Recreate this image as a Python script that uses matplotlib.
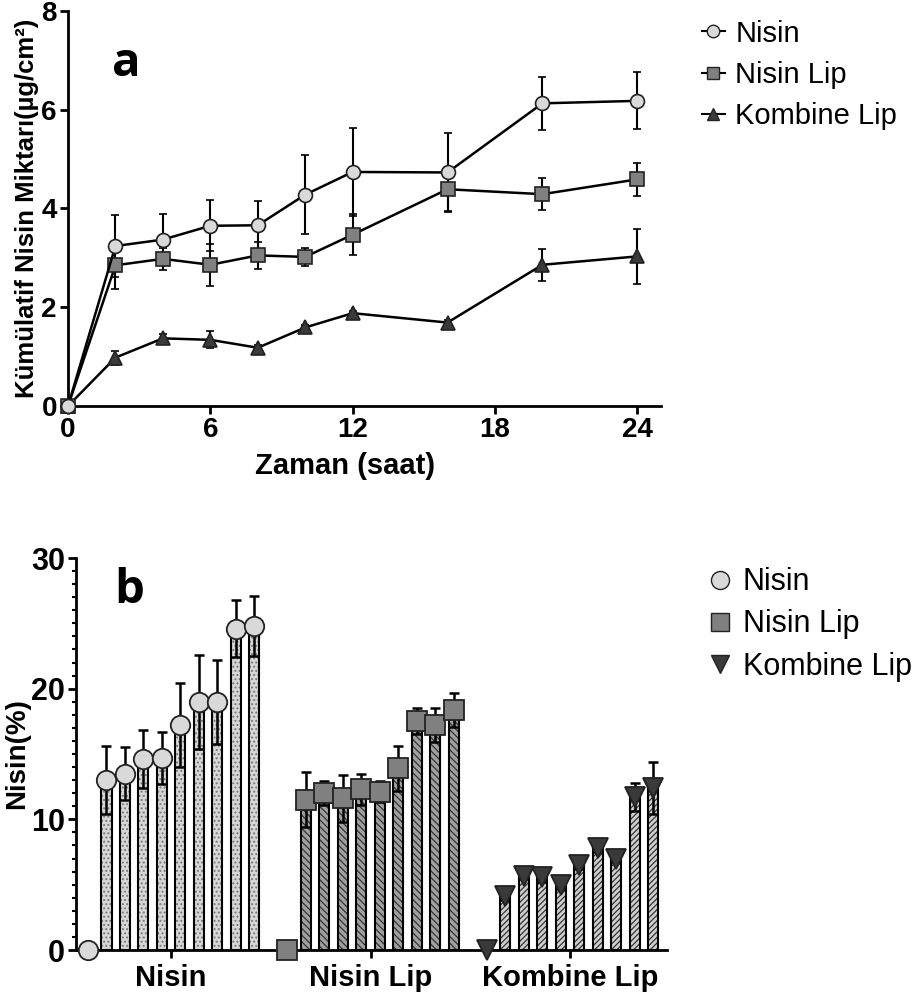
import numpy as np
import matplotlib
matplotlib.use("Agg")
import matplotlib.pyplot as plt
from matplotlib.lines import Line2D

# font used for the whole figure (Arial look-alike)
plt.rcParams['font.family'] = ['Liberation Sans', 'DejaVu Sans']
plt.rcParams['hatch.linewidth'] = 0.9

# ---- data: panel a (cumulative nisin, ug/cm2) ----
time_h = [0, 2, 4, 6, 8, 10, 12, 16, 20, 24]
nisin = [0, 3.24, 3.37, 3.65, 3.66, 4.28, 4.74, 4.73, 6.13, 6.18]
nisin_err = [0, 0.63, 0.52, 0.52, 0.50, 0.80, 0.90, 0.80, 0.54, 0.58]
nisin_lip = [0, 2.85, 2.98, 2.86, 3.05, 3.02, 3.47, 4.39, 4.29, 4.59]
nisin_lip_err = [0, 0.48, 0.22, 0.42, 0.27, 0.18, 0.42, 0.45, 0.32, 0.33]
kombine = [0, 0.98, 1.37, 1.34, 1.18, 1.59, 1.88, 1.69, 2.86, 3.03]
kombine_err = [0, 0.14, 0.08, 0.17, 0.05, 0.05, 0.05, 0.05, 0.32, 0.56]

# ---- data: panel b (nisin %) ----
groups = ['Nisin', 'Nisin Lip', 'Kombine Lip']
pct_nisin = [0, 13.0, 13.5, 14.6, 14.7, 17.2, 19.0, 19.0, 24.6, 24.8]
pct_nisin_err = [0, 2.6, 2.0, 2.2, 2.0, 3.2, 3.6, 3.2, 2.2, 2.3]
pct_lip = [0, 11.5, 12.0, 11.6, 12.3, 12.1, 13.9, 17.5, 17.2, 18.4]
pct_lip_err = [0, 2.1, 0.9, 1.8, 1.2, 0.8, 1.7, 1.0, 1.3, 1.3]
pct_komb = [0, 4.1, 5.7, 5.6, 5.0, 6.5, 7.8, 7.0, 11.7, 12.4]
pct_komb_err = [0, 0.3, 0.3, 0.4, 0.3, 0.3, 0.3, 0.3, 1.1, 2.0]

fig = plt.figure(figsize=(9.22, 9.99), dpi=100)

# ================= panel a =================
ax1 = fig.add_axes([68/922, 1 - 406/999, (661-68)/922, (406-11)/999])

series_a = [
    (kombine, kombine_err, '^', '#3a3a3a', 'Kombine Lip'),
    (nisin_lip, nisin_lip_err, 's', '#808080', 'Nisin Lip'),
    (nisin, nisin_err, 'o', '#d9d9d9', 'Nisin'),
]
for vals, err, mk, col, lab in series_a:
    ax1.errorbar(time_h, vals, yerr=err, color='black', lw=1.8, capsize=3,
                 capthick=1.5, elinewidth=1.5, marker=mk, ms=10,
                 mfc=col, mec='#222222', mew=1.2, clip_on=False, zorder=3)

ax1.set_xlim(0, 25)
ax1.set_ylim(0, 8)
ax1.set_xticks([0, 6, 12, 18, 24])
ax1.set_yticks([0, 2, 4, 6, 8])
for s in ['top', 'right']:
    ax1.spines[s].set_visible(False)
for s in ['left', 'bottom']:
    ax1.spines[s].set_linewidth(2)
ax1.tick_params(width=2, length=6, labelsize=20, pad=2)
for t in ax1.get_xticklabels() + ax1.get_yticklabels():
    t.set_fontweight('bold')
ax1.set_xlabel('Zaman (saat)', fontsize=21, fontweight='bold', va='center')
ax1.xaxis.set_label_coords(0.467, -0.152)
ax1.set_ylabel('Kümülatif Nisin Miktarı(µg/cm²)', fontsize=18.5,
               fontweight='bold', va='center')
ax1.yaxis.set_label_coords(-0.069, 0.5)
ax1.text(0.075, 0.835, 'a', transform=ax1.transAxes, fontsize=34,
         fontweight='bold', family='Open Sans')

handles_a = [Line2D([], [], color='black', lw=1.5, marker=m, ms=9, mfc=c,
                    mec='#222222') for _, _, m, c, _ in series_a[::-1]]
labels_a = [s[4] for s in series_a[::-1]]
fig.legend(handles_a, labels_a, loc='upper left',
           bbox_to_anchor=(690/922, 1 - 8/999), frameon=False, fontsize=21,
           handlelength=0.8, handletextpad=0.35, labelspacing=0.45,
           borderaxespad=0)

# ================= panel b =================
ax2 = fig.add_axes([76/922, 1 - 950/999, (667-76)/922, (950-558)/999])

gap = 10.8
series_b = [
    (pct_nisin, pct_nisin_err, 'o', '#d9d9d9', '#d6d6d6', '....', '#777777', 'Nisin'),
    (pct_lip, pct_lip_err, 's', '#808080', '#a0a0a0', '\\\\\\\\\\', '#333333', 'Nisin Lip'),
    (pct_komb, pct_komb_err, 'v', '#3a3a3a', '#cfcfcf', '//////', '#333333', 'Kombine Lip'),
]
offsets = np.arange(10) - 4.5
for g, (vals, err, mk, mcol, bcol, hatch, hcol, lab) in enumerate(series_b):
    x = g * gap + offsets
    # hatched fill, then black outline on top
    ax2.bar(x[1:], vals[1:], width=0.55, color=bcol, hatch=hatch,
            edgecolor=hcol, lw=0, zorder=2)
    ax2.bar(x[1:], vals[1:], width=0.55, fill=False, edgecolor='black',
            lw=1.5, zorder=2.5)
    ax2.errorbar(x, vals, yerr=err, fmt='none', ecolor='black',
                 elinewidth=1.8, capsize=3.5, capthick=1.8, zorder=3)
    ax2.plot(x, vals, ls='none', marker=mk, ms=14, mfc=mcol, mec='#222222',
             mew=1.3, clip_on=False, zorder=4)

ax2.set_xlim(-5.15, 2 * gap + 5.25)
ax2.set_ylim(0, 30)
ax2.set_xticks([0, gap, 2 * gap])
ax2.set_xticklabels(groups)
ax2.set_yticks([0, 10, 20, 30])
ax2.set_yticks(np.arange(0, 31, 1), minor=True)
for s in ['top', 'right']:
    ax2.spines[s].set_visible(False)
for s in ['left', 'bottom']:
    ax2.spines[s].set_linewidth(2)
ax2.tick_params(width=2, length=6, labelsize=22, pad=2)
ax2.tick_params(axis='y', which='minor', width=1.5, length=3)
ax2.tick_params(axis='x', labelsize=21, pad=4)
for t in ax2.get_xticklabels() + ax2.get_yticklabels():
    t.set_fontweight('bold')
ax2.set_ylabel('Nisin(%)', fontsize=20, fontweight='bold', va='center')
ax2.yaxis.set_label_coords(-0.1, 0.5)
ax2.text(0.065, 0.885, 'b', transform=ax2.transAxes, fontsize=34,
         fontweight='bold', family='Open Sans')

handles_b = [Line2D([], [], ls='none', marker=s[2], ms=13, mfc=s[3],
                    mec='#222222') for s in series_b]
labels_b = [s[7] for s in series_b]
fig.legend(handles_b, labels_b, loc='upper left',
           bbox_to_anchor=(694/922, 1 - 555/999), frameon=False, fontsize=22,
           handlelength=0.9, handletextpad=0.3, labelspacing=0.4,
           borderaxespad=0)

fig.savefig('out.png', dpi=100)
